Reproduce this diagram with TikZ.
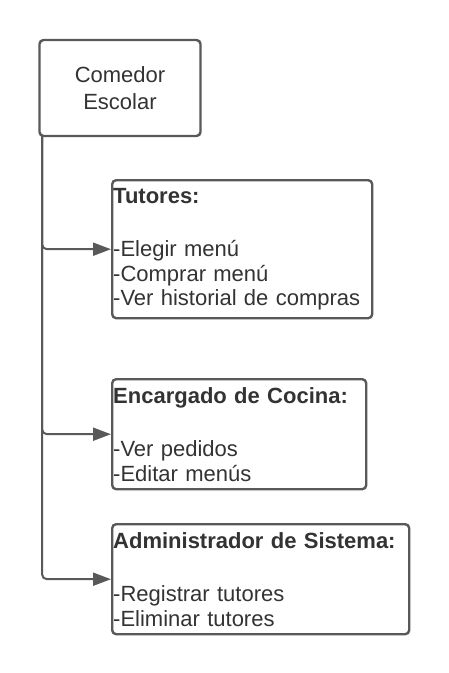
\documentclass[tikz,border=0pt]{standalone}
\usepackage{fontspec}
\setmainfont{Liberation Sans}
\usepackage{xcolor}
\usetikzlibrary{arrows.meta,positioning}
\definecolor{edge}{HTML}{595959}
\definecolor{ink}{HTML}{333333}
\newcommand{\boxfont}{\fontsize{22}{24.5}\selectfont}
\tikzset{
  rolebox/.style={draw=edge, line width=2.4pt, rounded corners=4pt, fill=white,
                  anchor=north west, align=left, inner xsep=1pt, inner ysep=0pt,
                  text=ink, font=\boxfont},
  rootbox/.style={rolebox, anchor=center, align=center},
  conn/.style={draw=edge, line width=2pt, rounded corners=5pt,
               -{Triangle[length=18pt,width=13pt]}},
}
\begin{document}
\begin{tikzpicture}[x=1pt, y=-1pt]
  \useasboundingbox (0,0) rectangle (448,673);

  % --- raíz ---
  \node[rootbox, minimum width=161pt, minimum height=96pt] (root) at (120,88)
       {Comedor\\[3pt]Escolar};
  \coordinate (trunk) at (42,136);

  % --- actores ---
  \node[rolebox, minimum height=138pt, text width=258pt] (tutor) at (111,179)
       {\textbf{Tutores:}\\[29pt]-Elegir menú\\-Comprar menú\\-Ver historial de compras};
  \node[rolebox, minimum height=110pt, text width=252pt] (cocina) at (111,378)
       {\textbf{Encargado de Cocina:}\\[29pt]-Ver pedidos\\-Editar menús};
  \node[rolebox, minimum height=110pt, text width=295pt] (admin) at (111,523)
       {\textbf{Administrador de Sistema:}\\[29pt]-Registrar tutores\\-Eliminar tutores};

  % --- conectores ---
  \foreach \b in {tutor, cocina, admin}
    \draw[conn] (trunk) |- (\b.west);
\end{tikzpicture}
\end{document}
